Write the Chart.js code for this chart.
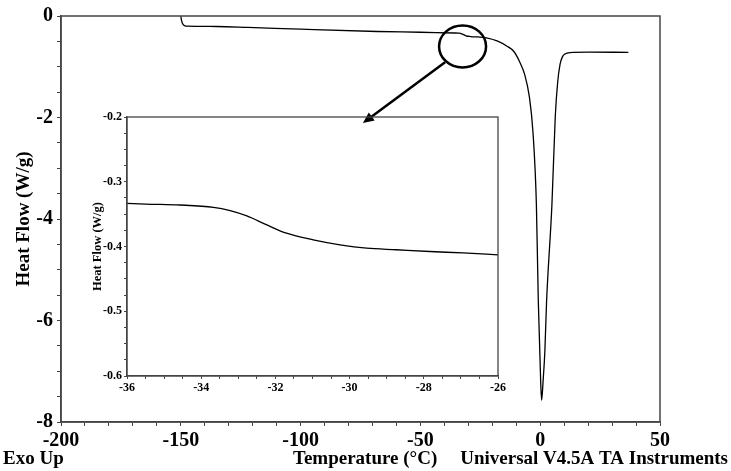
<!DOCTYPE html>
<html>
<head>
<meta charset="utf-8">
<script src="https://cdn.jsdelivr.net/npm/chart.js@4/dist/chart.umd.min.js"></script>
<style>
  body { margin: 0; background: #fff; }
  #wrap { position: relative; width: 731px; height: 471px; }
  #mainChart { position: absolute; left: 0; top: 0; }
  #insetChart { position: absolute; left: 85px; top: 105px; }
</style>
</head>
<body>
<div id="wrap">
  <canvas id="mainChart" width="731" height="471"></canvas>
  <canvas id="insetChart" width="425" height="295"></canvas>
</div>
<script>
// main DSC trace, temperature (°C) vs heat flow (W/g)
const mainTemp = [-150, -149.8, -149.5, -149, -148.3, -147.5, -135, -122, -100, -68, -50, -36, -34, -32.5, -31, -29, -26,
  -22.5, -18, -14, -11, -8.6, -6.5, -4.5, -3.0, -1.6, -0.8, 0.2, 0.6, 1.2, 1.95, 2.65, 4.9, 6.3, 7.3, 8.3, 9.3, 10.3, 12.4, 20, 36.8]
const mainFlow = [0, -0.06, -0.12, -0.17, -0.193, -0.2, -0.207, -0.225, -0.26, -0.305, -0.32, -0.335, -0.338, -0.355, -0.39, -0.405, -0.413,
  -0.43, -0.49, -0.59, -0.7, -0.9, -1.15, -1.6, -2.3, -3.7, -5.6, -7.2, -7.57, -7.2, -6.6, -5.64, -3.71, -1.97, -1.3, -0.95, -0.8, -0.75, -0.72, -0.713, -0.715]

// zoomed glass transition
const insetTemp = [-36, -35.5, -34.57, -33.67, -33.22, -32.77, -32.23, -31.7, -30.98, -30.26, -29.54, -28.74, -27.84, -26.94, -26]
const insetFlow = [-0.3333, -0.3345, -0.3359, -0.3395, -0.3446, -0.3528, -0.3667, -0.3795, -0.3897, -0.3974, -0.4026, -0.405, -0.4077, -0.410, -0.4128]

// labelled ticks
const mainXTicks = [-200, -150, -100, -50, 0, 50]
const mainYTicks = [-8, -6, -4, -2, 0]
const insetXTicks = [-36, -34, -32, -30, -28, -26]
const insetYTicks = [-0.6, -0.5, -0.4, -0.3, -0.2]

const serif = 'Liberation Serif'

function toPoints(xs, ys){
    return xs.map((x, i) => ({x: x, y: ys[i]}))
}

function isLabelled(v, list){
    return list.some(t => Math.abs(t - v) < 1e-6)
}

// box around the plot area
const framePlugin = {
    id: 'frame',
    afterDraw(chart){
        const a = chart.chartArea, ctx = chart.ctx
        ctx.save()
        ctx.strokeStyle = '#444'
        ctx.lineWidth = chart.canvas.id == 'mainChart' ? 1.5 : 1.3
        ctx.strokeRect(a.left, a.top, a.right - a.left, a.bottom - a.top)
        ctx.restore()
    }
}

// circle on the transition + arrow towards the inset (data coords of main chart)
const zoomMark = {cx: -32.4, cy: -0.6, fromX: -39.7, fromY: -0.91, toX: -74.0, toY: -2.11}
const calloutPlugin = {
    id: 'callout',
    afterDatasetsDraw(chart){
        const xs = chart.scales.x, ys = chart.scales.y, ctx = chart.ctx
        const cx = xs.getPixelForValue(zoomMark.cx), cy = ys.getPixelForValue(zoomMark.cy)
        ctx.save()
        ctx.strokeStyle = '#000'
        ctx.lineWidth = 2.5
        ctx.beginPath()
        ctx.ellipse(cx, cy, 23.5, 21, 0, 0, Math.PI * 2)
        ctx.stroke()
        const x1 = xs.getPixelForValue(zoomMark.fromX), y1 = ys.getPixelForValue(zoomMark.fromY)
        const x2 = xs.getPixelForValue(zoomMark.toX), y2 = ys.getPixelForValue(zoomMark.toY)
        const ang = Math.atan2(y2 - y1, x2 - x1)
        ctx.beginPath()
        ctx.moveTo(x1, y1)
        ctx.lineTo(x2 - 6 * Math.cos(ang), y2 - 6 * Math.sin(ang))
        ctx.stroke()
        ctx.fillStyle = '#000'
        ctx.beginPath()
        ctx.moveTo(x2, y2)
        ctx.lineTo(x2 - 11 * Math.cos(ang) + 5 * Math.sin(ang), y2 - 11 * Math.sin(ang) - 5 * Math.cos(ang))
        ctx.lineTo(x2 - 11 * Math.cos(ang) - 5 * Math.sin(ang), y2 - 11 * Math.sin(ang) + 5 * Math.cos(ang))
        ctx.closePath()
        ctx.fill()
        // footer line of the TA printout
        ctx.font = 'bold 19px "' + serif + '"'
        ctx.textBaseline = 'middle'
        ctx.textAlign = 'left'
        ctx.fillText('Exo Up', 3, 459)
        ctx.fillText('Temperature (°C)', 293, 459)
        ctx.textAlign = 'right'
        ctx.fillText('Universal V4.5A TA Instruments', 728, 459)
        ctx.restore()
    }
}

function axisGrid(len){
    return {display: true, drawOnChartArea: false, drawTicks: true, tickLength: len, color: '#444', tickColor: '#444'}
}

const mainCtx = document.getElementById('mainChart')
const mainChart = new Chart(mainCtx, {
    type: 'line',
    data: {
        datasets: [{
            data: toPoints(mainTemp, mainFlow),
            borderColor: '#000',
            borderWidth: 1.3,
            pointRadius: 0,
            cubicInterpolationMode: 'monotone',
            fill: false
        }]
    },
    options: {
        responsive: false,
        animation: false,
        layout: {padding: {top: 8, right: 71, left: 0, bottom: 0}},
        plugins: {legend: {display: false}, tooltip: {enabled: false}},
        scales: {
            x: {
                type: 'linear',
                min: -200, max: 50,
                border: {display: true, color: '#444', width: 1.5},
                grid: axisGrid(4),
                ticks: {
                    stepSize: 10, autoSkip: false, maxRotation: 0, padding: 3,
                    color: '#000', font: {family: serif, size: 20, weight: 'bold'},
                    callback: v => isLabelled(v, mainXTicks) ? String(v) : ''
                },
                afterFit: s => { s.height = 49 }
            },
            y: {
                min: -8, max: 0,
                border: {display: true, color: '#444', width: 1.5},
                grid: axisGrid(4),
                ticks: {
                    stepSize: 0.5, autoSkip: false, padding: 4,
                    color: '#000', font: {family: serif, size: 20, weight: 'bold'},
                    callback: v => isLabelled(v, mainYTicks) ? String(Math.round(v)) : ''
                },
                title: {display: true, text: 'Heat Flow (W/g)', color: '#000',
                    font: {family: serif, size: 19, weight: 'bold'}, padding: {top: 13, bottom: 0}},
                afterFit: s => { s.width = 61 }
            }
        }
    },
    plugins: [framePlugin, calloutPlugin]
})

const insetCtx = document.getElementById('insetChart')
const insetChart = new Chart(insetCtx, {
    type: 'line',
    data: {
        datasets: [{
            data: toPoints(insetTemp, insetFlow),
            borderColor: '#000',
            borderWidth: 1.3,
            pointRadius: 0,
            cubicInterpolationMode: 'monotone',
            fill: false
        }]
    },
    options: {
        responsive: false,
        animation: false,
        layout: {padding: {top: 12, right: 12, left: 0, bottom: 0}},
        plugins: {legend: {display: false}, tooltip: {enabled: false}},
        scales: {
            x: {
                type: 'linear',
                min: -36, max: -26,
                border: {display: true, color: '#444', width: 1.3},
                grid: axisGrid(3),
                ticks: {
                    stepSize: 0.5, autoSkip: false, maxRotation: 0, padding: 2,
                    color: '#000', font: {family: serif, size: 12, weight: 'bold'},
                    callback: v => isLabelled(v, insetXTicks) ? String(Math.round(v)) : ''
                },
                afterFit: s => { s.height = 24 }
            },
            y: {
                min: -0.6, max: -0.2,
                border: {display: true, color: '#444', width: 1.3},
                grid: axisGrid(3),
                ticks: {
                    stepSize: 0.025, autoSkip: false, padding: 2,
                    color: '#000', font: {family: serif, size: 12, weight: 'bold'},
                    callback: v => isLabelled(v, insetYTicks) ? v.toFixed(1) : ''
                },
                title: {display: true, text: 'Heat Flow (W/g)', color: '#000',
                    font: {family: serif, size: 12.5, weight: 'bold'}, padding: {top: 5, bottom: 0}},
                afterFit: s => { s.width = 42 }
            }
        }
    },
    plugins: [framePlugin]
})
</script>
</body>
</html>
